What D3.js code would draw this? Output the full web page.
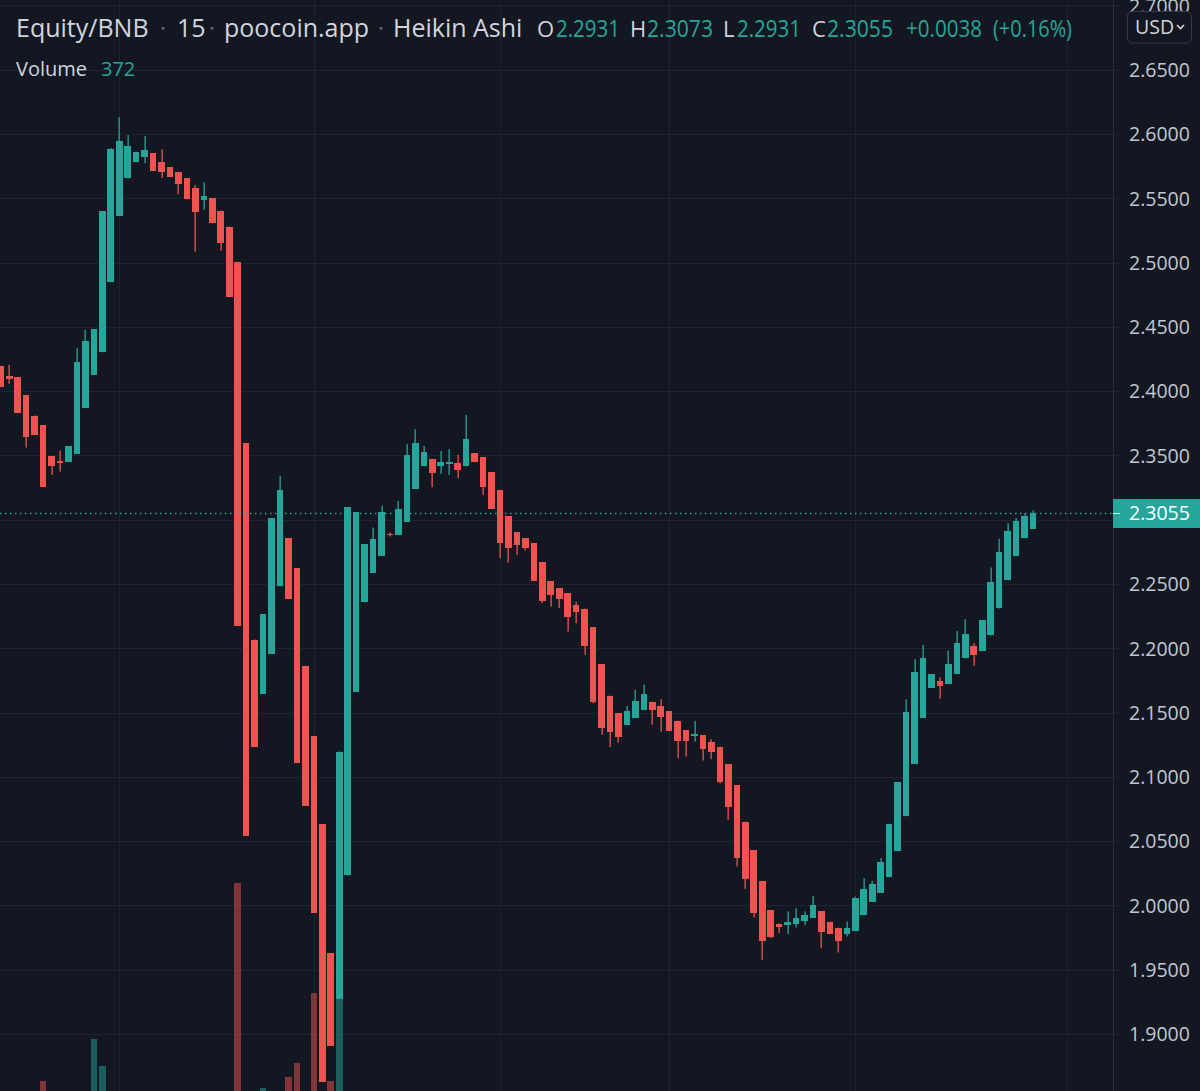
<!DOCTYPE html>
<html><head><meta charset="utf-8">
<script src="https://cdn.jsdelivr.net/npm/d3@7"></script>
<style>html,body{margin:0;padding:0;background:#131722;overflow:hidden}svg{display:block}</style>
</head><body><svg id="c" width="1200" height="1091"></svg>
<script>
// ---- data (Heikin Ashi candles, 15m) ----
const opens = [2.4198,2.4120,2.4107,2.3970,2.3810,2.3735,2.3496,2.3460,2.3452,2.3515,
2.3870,2.4128,2.4302,2.4850,2.5365,2.5655,2.5780,2.5820,2.5850,2.5782,
2.5744,2.5706,2.5658,2.5578,2.5487,2.5503,2.5404,2.5280,2.5005,2.3595,
2.2068,2.1648,2.1957,2.2483,2.2859,2.2621,2.1864,2.1320,2.0630,1.9630,
1.9271,2.0234,2.1663,2.2358,2.2585,2.2719,2.2891,2.2885,2.2983,2.3240,
2.3418,2.3474,2.3420,2.3433,2.3443,2.3415,2.3518,2.3484,2.3370,2.3228,
2.3027,2.2905,2.2855,2.2820,2.2673,2.2524,2.2469,2.2428,2.2337,2.2309,
2.2165,2.1877,2.1632,2.1496,2.1403,2.1458,2.1523,2.1585,2.1555,2.1512,
2.1438,2.1361,2.1318,2.1325,2.1273,2.1236,2.1100,2.0936,2.0652,2.0431,
2.0190,1.9962,1.9858,1.9844,1.9859,1.9880,1.9903,1.9953,1.9874,1.9827,
1.9777,1.9800,1.9928,2.0028,2.0098,2.0219,2.0427,2.0693,2.1100,2.1459,
2.1691,2.1745,2.1726,2.1802,2.1921,2.2015,2.1982,2.2101,2.2310,2.2528,
2.2720,2.2855,2.2931];
const highs = [2.4198,2.4204,2.4107,2.3970,2.3810,2.3735,2.3496,2.3537,2.3574,2.4334,
2.4476,2.4481,2.5401,2.5890,2.6130,2.5992,2.5862,2.5984,2.5850,2.5881,
2.5744,2.5706,2.5658,2.5603,2.5624,2.5503,2.5404,2.5280,2.5005,2.3595,
2.2068,2.2265,2.3012,2.3341,2.2859,2.2621,2.1864,2.1320,2.0630,1.9630,
2.1197,2.3097,2.3058,2.2812,2.2939,2.3107,2.2900,2.3146,2.3587,2.3704,
2.3574,2.3474,2.3535,2.3548,2.3504,2.3815,2.3518,2.3484,2.3370,2.3228,
2.3027,2.2905,2.2855,2.2820,2.2673,2.2524,2.2469,2.2428,2.2363,2.2309,
2.2165,2.1877,2.1632,2.1496,2.1552,2.1677,2.1717,2.1585,2.1604,2.1512,
2.1438,2.1361,2.1435,2.1325,2.1293,2.1236,2.1100,2.0936,2.0652,2.0431,
2.0190,1.9962,1.9858,1.9953,1.9979,1.9953,2.0075,1.9953,1.9874,1.9827,
1.9875,2.0069,2.0212,2.0191,2.0368,2.0635,2.0959,2.1604,2.1915,2.2026,
2.1799,2.1775,2.1982,2.2135,2.2226,2.2040,2.2221,2.2628,2.2851,2.2973,
2.3012,2.3051,2.3073];
const lows = [2.4035,2.4056,2.3828,2.3561,2.3659,2.3257,2.3348,2.3374,2.3452,2.3515,
2.3870,2.4128,2.4302,2.4850,2.5365,2.5655,2.5780,2.5772,2.5712,2.5658,
2.5664,2.5531,2.5492,2.5085,2.5409,2.5306,2.5093,2.4730,2.2177,2.0541,
2.1231,2.1648,2.1957,2.2483,2.2382,2.1107,2.0777,1.9940,1.8626,1.8908,
1.9271,2.0234,2.1663,2.2358,2.2585,2.2719,2.2870,2.2885,2.2983,2.3240,
2.3418,2.3253,2.3356,2.3348,2.3323,2.3415,2.3448,2.3193,2.3084,2.2701,
2.2666,2.2726,2.2760,2.2526,2.2351,2.2324,2.2312,2.2130,2.2195,2.1949,
2.1573,2.1327,2.1231,2.1267,2.1403,2.1458,2.1523,2.1404,2.1352,2.1360,
2.1145,2.1158,2.1274,2.1127,2.1138,2.0950,2.0666,2.0303,2.0127,1.9906,
1.9577,1.9746,1.9785,1.9779,1.9828,1.9847,1.9903,1.9668,1.9779,1.9634,
1.9759,1.9800,1.9928,2.0028,2.0098,2.0219,2.0427,2.0693,2.1100,2.1459,
2.1691,2.1607,2.1726,2.1802,2.1921,2.1863,2.1982,2.2101,2.2310,2.2528,
2.2720,2.2855,2.2931];
const closes = [2.4035,2.4093,2.3828,2.3646,2.3659,2.3257,2.3421,2.3444,2.3574,2.4225,
2.4390,2.4481,2.5401,2.5881,2.5948,2.5907,2.5862,2.5876,2.5712,2.5707,
2.5664,2.5611,2.5492,2.5396,2.5518,2.5306,2.5155,2.4730,2.2177,2.0541,
2.1231,2.2265,2.3012,2.3232,2.2382,2.1107,2.0777,1.9940,1.8626,1.8908,
2.1197,2.3097,2.3058,2.2812,2.2853,2.3063,2.2879,2.3084,2.3504,2.3600,
2.3530,2.3366,2.3447,2.3452,2.3387,2.3626,2.3448,2.3253,2.3084,2.2822,
2.2783,2.2802,2.2783,2.2526,2.2369,2.2415,2.2384,2.2246,2.2281,2.2021,
2.1586,2.1379,2.1352,2.1309,2.1513,2.1591,2.1646,2.1521,2.1462,2.1360,
2.1280,2.1282,2.1334,2.1218,2.1197,2.0963,2.0769,2.0368,2.0207,1.9940,
1.9727,1.9754,1.9831,1.9875,1.9901,1.9927,2.0005,1.9797,1.9779,1.9727,
1.9824,2.0057,2.0129,2.0168,2.0341,2.0635,2.0959,2.1508,2.1819,2.1923,
2.1799,2.1708,2.1879,2.2040,2.2110,2.1949,2.2221,2.2519,2.2747,2.2913,
2.2991,2.3030,2.3055];
const volumes = [640,520,480,610,450,1900,560,430,510,690,
720,6100,3430,780,820,650,410,380,440,360,
350,420,470,590,330,450,520,680,21700,840,
700,1230,860,620,2330,3730,800,10700,850,1900,
10070,790,640,560,410,380,300,420,560,610,
430,380,340,320,350,470,300,420,510,560,
480,390,330,460,520,410,380,450,340,490,
560,610,470,420,390,430,380,350,330,360,
420,390,310,360,330,410,480,560,530,570,
610,420,300,330,320,290,380,410,330,350,
300,420,460,390,470,540,600,690,720,650,
410,340,430,470,450,360,420,560,590,520,
430,390,372];
const priceTicks = [1.90,1.95,2.00,2.05,2.10,2.15,2.20,2.25,2.30,2.35,2.40,2.45,2.50,2.55,2.60,2.65,2.70];
const timeGridIdx = [14,37,59,79,101,126];
const titleParts = ["Equity/BNB","15","poocoin.app","Heikin Ashi"];
const ohlcLabels = ["O","H","L","C"];
const ohlcValues = ["2.2931","2.3073","2.2931","2.3055"];
const changeText = ["+0.0038","(+0.16%)"];
const lastPrice = 2.3055;
const volumeLast = "372";

// ---- style ----
const BG="#131722", GRID="#1f2330", UP="#26a69a", DOWN="#ef5350";
const UPV="rgba(38,166,154,0.5)", DOWNV="rgba(239,83,80,0.5)";
const TXT="#d1d4dc", AXT="#c3c6ce", FONT="'Open Sans', sans-serif";
const W=1200, H=1091, PLOT_R=1113;

const svg=d3.select("#c");
svg.append("rect").attr("width",W).attr("height",H).attr("fill",BG);

const x=d3.scaleLinear().domain([0,122]).range([0.8,1033]);
const y=d3.scaleLinear().domain([1.9,2.6]).range([1034,134]);
const yv=d3.scaleLinear().domain([0,10000]).range([1100,1000]);

const data=opens.map((o,i)=>({i,o,h:highs[i],l:lows[i],c:closes[i],v:volumes[i]}));

// grid
const g=svg.append("g");
g.selectAll("line.h").data(priceTicks).join("line")
 .attr("x1",0).attr("x2",PLOT_R+8).attr("y1",d=>Math.round(y(d))+0.5).attr("y2",d=>Math.round(y(d))+0.5)
 .attr("stroke",GRID).attr("stroke-width",1);
g.selectAll("line.v").data(timeGridIdx).join("line")
 .attr("x1",d=>Math.round(x(d))+0.5).attr("x2",d=>Math.round(x(d))+0.5).attr("y1",0).attr("y2",H)
 .attr("stroke",GRID).attr("stroke-width",1);

// clip for plot
svg.append("clipPath").attr("id","plot").append("rect").attr("x",0).attr("y",0).attr("width",PLOT_R).attr("height",H);
const p=svg.append("g").attr("clip-path","url(#plot)");

// volume
const bw=6.6;
p.selectAll("rect.vol").data(data).join("rect")
 .attr("x",d=>x(d.i)-bw/2).attr("width",bw)
 .attr("y",d=>yv(d.v)).attr("height",d=>yv(0)-yv(d.v))
 .attr("fill",d=>d.c>=d.o?UPV:DOWNV).attr("shape-rendering","crispEdges");

// wicks
p.selectAll("rect.wick").data(data).join("rect")
 .attr("x",d=>Math.round(x(d.i))-0.5).attr("width",1.3)
 .attr("y",d=>y(d.h)).attr("height",d=>Math.max(1,y(d.l)-y(d.h)))
 .attr("fill",d=>d.c>=d.o?UP:DOWN);
// bodies
p.selectAll("rect.body").data(data).join("rect")
 .attr("x",d=>x(d.i)-bw/2).attr("width",bw)
 .attr("y",d=>y(Math.max(d.o,d.c))).attr("height",d=>Math.max(1.5,Math.abs(y(d.o)-y(d.c))))
 .attr("fill",d=>d.c>=d.o?UP:DOWN).attr("shape-rendering","crispEdges");

// last price line
const ly=Math.round(y(lastPrice))+0.5;
p.append("line").attr("x1",0).attr("x2",PLOT_R).attr("y1",ly).attr("y2",ly)
 .attr("stroke",UP).attr("stroke-width",1.3).attr("stroke-dasharray","1.5,3.5");

// price axis (labels hidden where the last-price label sits, as on the reference)
svg.append("line").attr("x1",PLOT_R+0.5).attr("x2",PLOT_R+0.5).attr("y1",0).attr("y2",H).attr("stroke","#2a2e39");
const ax=d3.axisRight(y).tickValues(priceTicks).tickFormat(d3.format(".4f")).tickSize(8).tickPadding(8);
const axg=svg.append("g").attr("transform",`translate(${PLOT_R},0)`).call(ax);
axg.select(".domain").remove();
axg.selectAll(".tick line").attr("stroke",GRID);
axg.selectAll(".tick text").attr("fill",AXT).attr("font-family",FONT).attr("font-size",19.5).attr("dy","0.35em")
 .style("display",d=>Math.abs(y(d)-y(lastPrice))<24?"none":null);

// last price label
svg.append("rect").attr("x",PLOT_R).attr("y",ly-14.5).attr("width",W-PLOT_R).attr("height",29).attr("fill",UP);
svg.append("line").attr("x1",PLOT_R).attr("x2",PLOT_R+7).attr("y1",ly).attr("y2",ly).attr("stroke","#fff");
svg.append("text").attr("x",PLOT_R+16).attr("y",ly).attr("dy","0.35em").attr("fill","#fff")
 .attr("font-family",FONT).attr("font-size",19.5).text(d3.format(".4f")(lastPrice));

// USD box
svg.append("rect").attr("x",1127.5).attr("y",11.5).attr("width",64).attr("height",31.5).attr("rx",5)
 .attr("fill",BG).attr("stroke","#363a45");
svg.append("text").attr("x",1135).attr("y",34).attr("fill",TXT).attr("font-family",FONT).attr("font-size",19.5).text("USD");
svg.append("path").attr("d","M1177,25 l3.5,3.5 l3.5,-3.5").attr("fill","none").attr("stroke",TXT).attr("stroke-width",1.6);

// header legend
const hd=svg.append("g").attr("font-family",FONT).attr("font-size",25);
const titleX=[16,177,224,393], dotX=[163,212,381];
titleParts.forEach((t,k)=>hd.append("text").attr("x",titleX[k]).attr("y",37).attr("fill",TXT).text(t));
dotX.forEach(d=>hd.append("text").attr("x",d).attr("y",37).attr("fill","#5d606b").attr("text-anchor","middle").text("·"));
const lblX=[537,630,723,812], valX=[556,647,737,827], valW=[64,66,64,66];
ohlcLabels.forEach((t,k)=>{
  hd.append("text").attr("x",lblX[k]).attr("y",37).attr("fill",TXT).attr("font-size",22).text(t);
  hd.append("text").attr("x",valX[k]).attr("y",37).attr("fill",UP).attr("font-size",23)
    .attr("textLength",valW[k]).attr("lengthAdjust","spacingAndGlyphs").text(ohlcValues[k]);
});
hd.append("text").attr("x",906).attr("y",37).attr("fill",UP).attr("font-size",23)
  .attr("textLength",76).attr("lengthAdjust","spacingAndGlyphs").text(changeText[0]);
hd.append("text").attr("x",993).attr("y",37).attr("fill",UP).attr("font-size",23)
  .attr("textLength",79).attr("lengthAdjust","spacingAndGlyphs").text(changeText[1]);
const vl=svg.append("g").attr("font-family",FONT).attr("font-size",20);
vl.append("text").attr("x",16).attr("y",76).attr("fill",TXT).text("Volume");
vl.append("text").attr("x",101).attr("y",76).attr("fill",UP).text(volumeLast);
</script></body></html>
